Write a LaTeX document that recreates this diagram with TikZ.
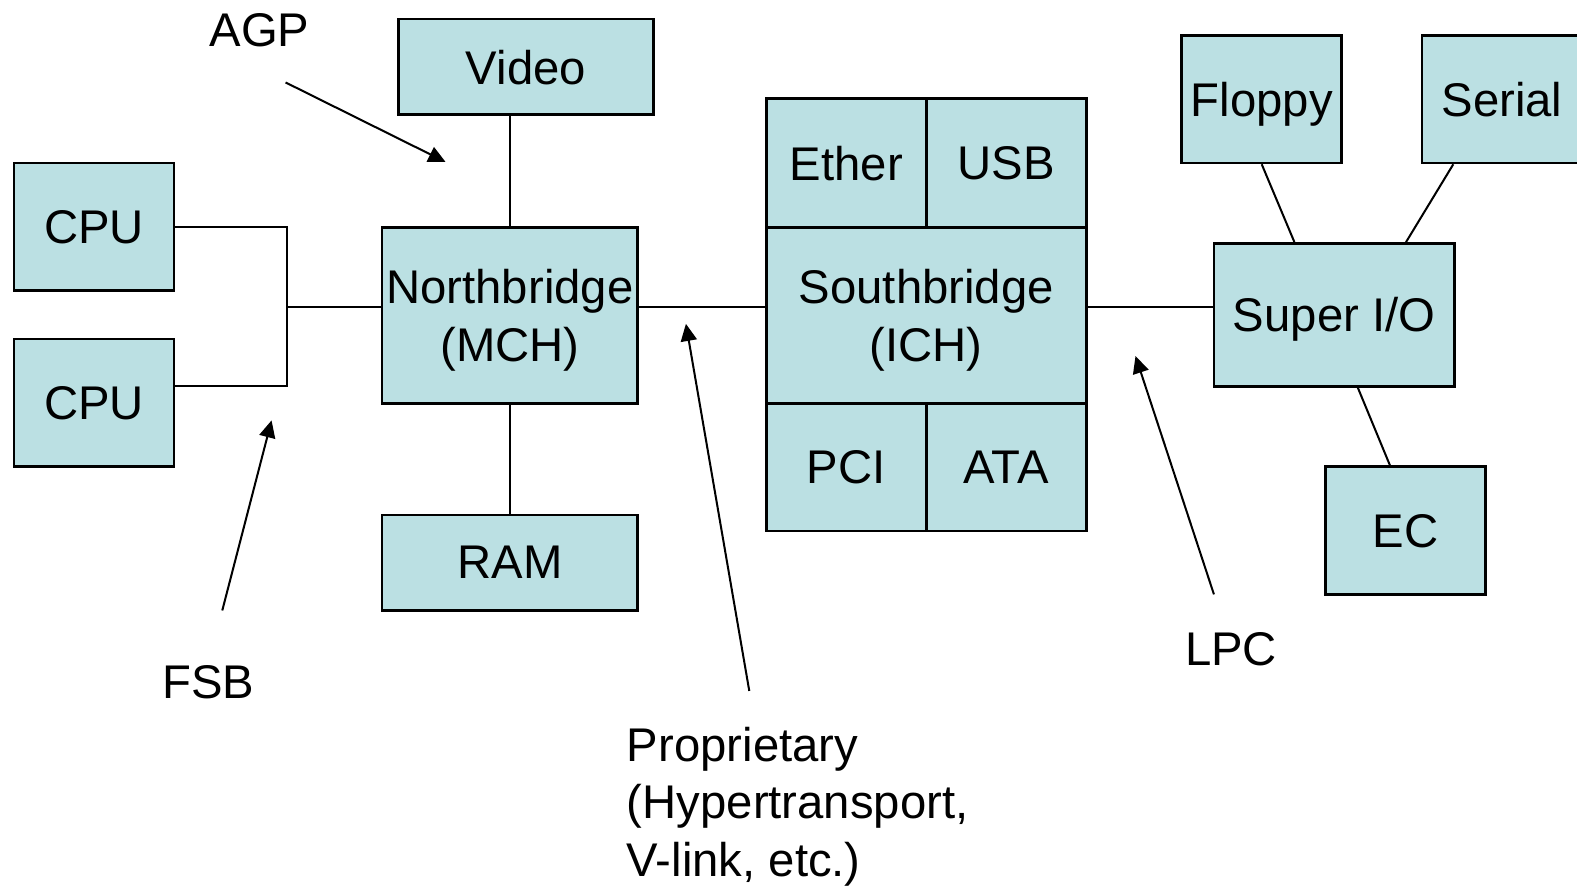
\documentclass[tikz,border=0pt]{standalone}
\usepackage{fontspec}
\setmainfont{Liberation Sans}
\usetikzlibrary{arrows.meta,calc}
\definecolor{boxcol}{HTML}{BBE0E3}

\begin{document}
\begin{tikzpicture}[x=0.5pt,y=-0.5pt,
  blk/.style={draw,line width=1.3pt,fill=boxcol,inner sep=0pt,text depth=0pt,
    minimum width=79.5pt,minimum height=63.5pt,align=center},
  wideblk/.style={blk,minimum width=127pt},
  lbl/.style={inner sep=0pt,align=left},
  bus/.style={line width=1pt},
  ptr/.style={line width=1pt,-{Triangle[length=8.5pt,width=8pt]}},
  font=\fontsize{23.5}{28.5}\selectfont]
\clip (0,0) rectangle (1568,884);
% boxes
\node[blk] (cpuA) at (93.5,225.5) {CPU};
\node[blk] (cpuB) at (93.5,400.5) {CPU};
\node[wideblk,minimum height=87.5pt] (nb) at (507,313.5) {Northbridge\\(MCH)};
\node[wideblk,minimum height=47.5pt] (video) at (523,66.5) {Video};
\node[wideblk,minimum height=47.5pt] (ram) at (507,559.5) {RAM};
\node[blk,minimum height=64pt] (ether) at (841.5,162) {Ether};
\node[blk,minimum height=64pt] (usb) at (1000.5,162) {USB};
\node[blk,minimum width=159pt,minimum height=87.5pt] (sb) at (921,313.5) {Southbridge\\(ICH)};
\node[blk] (pci) at (841.5,464.5) {PCI};
\node[blk] (ata) at (1000.5,464.5) {ATA};
\node[blk] (floppy) at (1254.5,98.5) {Floppy};
\node[blk] (serial) at (1493.5,98.5) {Serial};
\node[blk,minimum width=119.5pt,minimum height=71pt] (sio) at (1326.5,313) {Super I/O};
\node[blk] (ec) at (1397.5,527.5) {EC};
% buses
\coordinate (busy) at (0,305);
\coordinate (fsb) at (285,305);
\coordinate (fsbB) at (285,384);
\draw[bus] (cpuA.east) -| (fsbB) -- (cpuB.east |- fsbB);
\draw[bus] (fsb) -- (nb.west |- busy);
\draw[bus] (nb.east |- busy) -- (sb.west |- busy);
\draw[bus] (sb.east |- busy) -- (sio.west |- busy);
\draw[bus] (video.south -| nb.north) -- (nb.north);
\draw[bus] (nb.south) -- (ram.north);
\draw[bus] (floppy.south) -- ($(sio.north)+(-39.5,0)$);
\draw[bus] ($(serial.south)+(-48.5,0)$) -- ($(sio.north)+(71.5,0)$);
\draw[bus] ($(sio.south)+(23.5,0)$) -- ($(ec.north)+(-15.5,0)$);
% labels
\node[lbl] (agp) at (258,30) {AGP};
\node[lbl] (fsblbl) at (207,678) {FSB};
\node[lbl] (lpc) at (1224,646) {LPC};
\node[lbl,anchor=west] (prop) at (623,802) {Proprietary\\(Hypertransport,\\V-link, etc.)};
\coordinate (agpA) at (284,82);
\coordinate (agpB) at (443,161);
\coordinate (fsbA) at (221,607);
\coordinate (fsbC) at (270,418);
\coordinate (propA) at (745,687);
\coordinate (propB) at (682,322);
\coordinate (lpcA) at (1207,591);
\coordinate (lpcB) at (1129,354);
\draw[ptr] (agpA) -- (agpB);
\draw[ptr] (fsbA) -- (fsbC);
\draw[ptr] (propA) -- (propB);
\draw[ptr] (lpcA) -- (lpcB);
\end{tikzpicture}
\end{document}
